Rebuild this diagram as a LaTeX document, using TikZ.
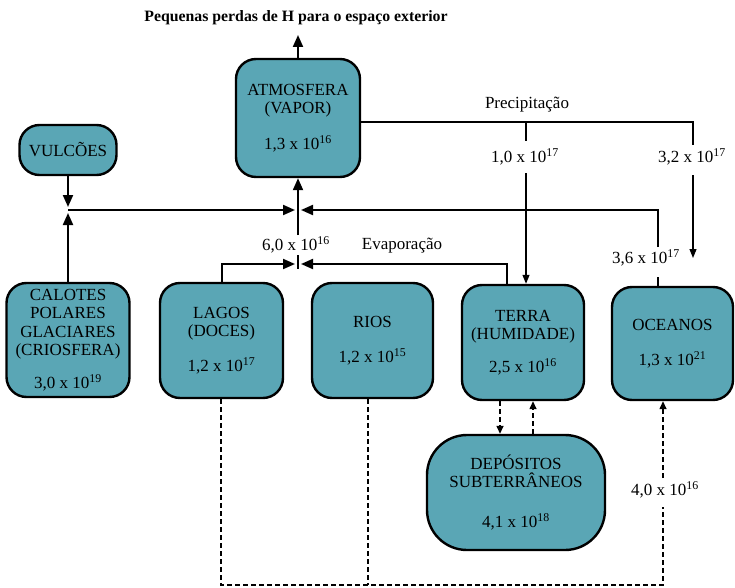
\documentclass[tikz,border=0pt]{standalone}
\usepackage{fontspec}
\setmainfont{Liberation Serif}
\usetikzlibrary{arrows.meta}
\definecolor{boxfill}{RGB}{90,166,181}
\begin{document}
\begin{tikzpicture}[x=1pt,y=-1pt,
  box/.style={draw=black, line width=2.4pt, fill=boxfill, rounded corners=20pt,
    align=center, inner sep=0pt, font=\fontsize{17}{18.5}\selectfont},
  lbl/.style={font=\fontsize{17}{18}\selectfont, inner sep=1pt},
  solidline/.style={line width=2pt},
  flow/.style={line width=2pt, -{Triangle[length=12pt,width=10pt]}},
  thinline/.style={line width=1.2pt},
  thinflow/.style={line width=1.2pt, -{Triangle[length=9pt,width=7pt]}},
  dashline/.style={line width=1.4pt, dash pattern=on 5pt off 3pt},
  dashflow/.style={line width=1.4pt, dash pattern=on 5pt off 3pt, -{Triangle[length=8pt,width=7pt]}},
]
\useasboundingbox (0,0) rectangle (735,588);

% boxes
\node[box, minimum width=124pt, minimum height=118pt] (atm) at (298,118)
  {ATMOSFERA\\(VAPOR)\\[17pt]1,3 x 10\textsuperscript{16}};
\node[box, minimum width=97pt, minimum height=50pt] (vul) at (68,150) {VULCÕES};
\node[box, minimum width=123pt, minimum height=114pt] (cal) at (68,340)
  {CALOTES\\POLARES\\GLACIARES\\(CRIOSFERA)\\[14.5pt]3,0 x 10\textsuperscript{19}};
\node[box, minimum width=123pt, minimum height=115pt] (lag) at (221.5,340.5)
  {LAGOS\\(DOCES)\\[16.5pt]1,2 x 10\textsuperscript{17}};
\node[box, minimum width=121pt, minimum height=115pt] (rio) at (372.5,340.5)
  {RIOS\\[16.5pt]1,2 x 10\textsuperscript{15}};
\node[box, minimum width=122pt, minimum height=115pt] (ter) at (523,342.5)
  {TERRA\\(HUMIDADE)\\[14pt]2,5 x 10\textsuperscript{16}};
\node[box, minimum width=121pt, minimum height=113pt] (oce) at (672.5,343.5)
  {OCEANOS\\[16.5pt]1,3 x 10\textsuperscript{21}};
\node[box, rounded corners=40pt, minimum width=178pt, minimum height=115pt] (dep) at (516,492.5)
  {DEPÓSITOS\\SUBTERRÂNEOS\\[21pt]4,1 x 10\textsuperscript{18}};

% labels
\node[font=\bfseries\fontsize{15.8}{18}\selectfont, inner sep=1pt] (title) at (296,18)
  {Pequenas perdas de H para o espaço exterior};
\node[lbl] (lprec) at (527,105) {Precipitação};
\node[lbl] (l10) at (525,157) {1,0 x 10\textsuperscript{17}};
\node[lbl] (l32) at (692,157) {3,2 x 10\textsuperscript{17}};
\node[lbl] (l60) at (296,245) {6,0 x 10\textsuperscript{16}};
\node[lbl] (levap) at (402,246) {Evaporação};
\node[lbl] (l36) at (646,258) {3,6 x 10\textsuperscript{17}};
\node[lbl] (l40) at (665,490) {4,0 x 10\textsuperscript{16}};

% coordinates
\coordinate (top) at (298,35);
\coordinate (j1) at (68,210);
\coordinate (j2) at (298,210);
\coordinate (j3) at (298,264);
\coordinate (j2a) at (298,235);
\coordinate (j3a) at (298,255);
\coordinate (j3b) at (298,269);
\coordinate (oc1) at (658,210);
\coordinate (oc2) at (658,247);
\coordinate (oc3) at (658,277);
\coordinate (ea) at (222,264);
\coordinate (eb) at (507,264);
\coordinate (pa) at (526,122);
\coordinate (pb) at (693,122);
\coordinate (pa1) at (526,141);
\coordinate (pa2) at (526,173);
\coordinate (pb1) at (693,145);
\coordinate (pb2) at (693,175);
\coordinate (pb3) at (693,258);
\coordinate (d1) at (221,585);
\coordinate (d2) at (368,585);
\coordinate (d3) at (663,585);
\coordinate (d3a) at (663,507);
\coordinate (d3b) at (663,478);
\coordinate (t1) at (500,0);
\coordinate (t2) at (533,0);

% loss to space
\draw[flow] (atm.north) -- (top);

% volcanoes / ice caps to junction
\draw[flow, shorten >=3pt] (vul.south) -- (j1);
\draw[flow, shorten >=3pt] (cal.north) -- (j1);
\draw[flow, shorten >=3pt] (j1) -- (j2);
\draw[solidline] (oce.north -| oc1) -- (oc3);
\draw[flow, shorten >=3pt] (oc2) -- (oc1) -- (j2);
\draw[flow] (j2a) -- (atm.south);
\draw[solidline] (j3a) -- (j3b);

% evaporation
\draw[flow, shorten >=3pt] (lag.north -| ea) -- (ea) -- (j3);
\draw[flow, shorten >=3pt] (ter.north -| eb) -- (eb) -- (j3);

% precipitation
\draw[thinline] ([yshift=-4pt]atm.east) -- (pb) -- (pb1);
\draw[thinline] (pa) -- (pa1);
\draw[thinflow] (pa2) -- (ter.north -| pa);
\draw[thinflow] (pb2) -- (pb3);

% underground flows
\draw[dashline] (lag.south -| d1) -- (d1) -- (d3) -- (d3a);
\draw[dashline] (rio.south -| d2) -- (d2);
\draw[dashflow] (d3b) -- (oce.south -| d3);
\draw[dashflow] (ter.south -| t1) -- (dep.north -| t1);
\draw[dashflow] (dep.north -| t2) -- (ter.south -| t2);
\end{tikzpicture}
\end{document}
